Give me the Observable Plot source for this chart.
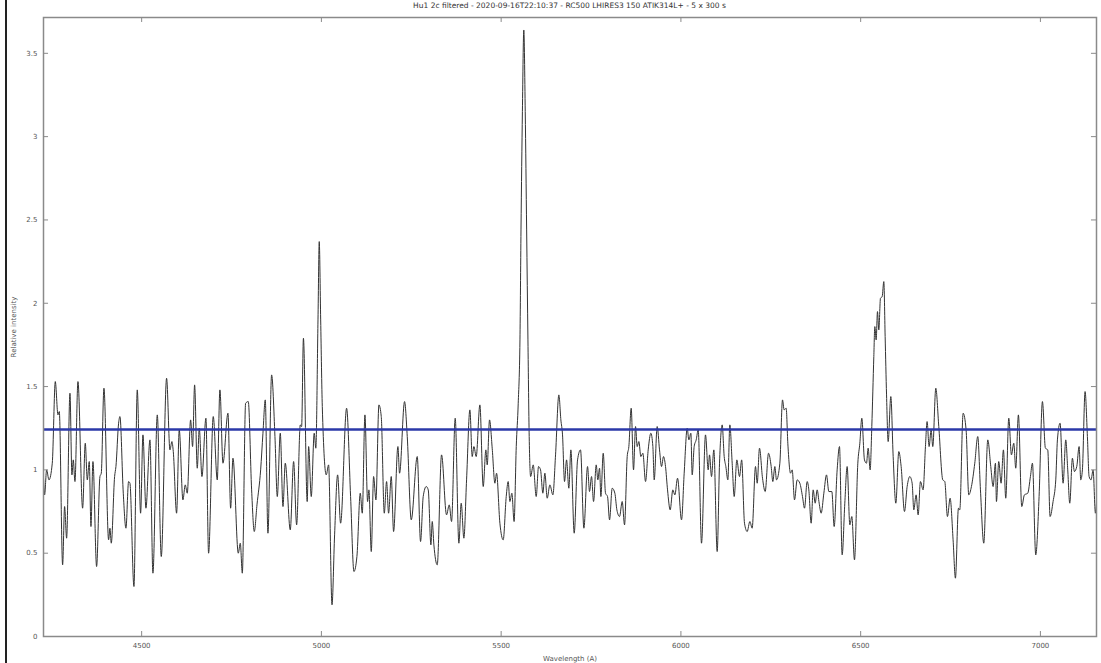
<!DOCTYPE html>
<html>
<head>
<meta charset="utf-8">
<script src="https://cdn.jsdelivr.net/npm/d3@7"></script>
<script src="https://cdn.jsdelivr.net/npm/@observablehq/plot@0.6"></script>
<style>
  body { margin: 0; background: #fff; }
  #wrap { position: relative; width: 1101px; height: 663px; overflow: hidden; }
  #title { position: absolute; left: 43px; width: 1053px; top: 1px; text-align: center;
           font-family: "DejaVu Sans", sans-serif; font-size: 7.5px; line-height: 10px; color: #333; }
  #edge { position: absolute; left: 5px; top: 0; width: 2px; height: 663px; background: #222; }
  #chart { position: absolute; left: 0; top: 0; }
</style>
</head>
<body>
<div id="wrap">
  <div id="chart"></div>
  <div id="title">Hu1 2c filtered - 2020-09-16T22:10:37 - RC500 LHIRES3 150 ATIK314L+ - 5 x 300 s</div>
  <div id="edge"></div>
</div>
<script>
const titleText = "Hu1 2c filtered - 2020-09-16T22:10:37 - RC500 LHIRES3 150 ATIK314L+ - 5 x 300 s";
const xLabel = "Wavelength (A)";
const yLabel = "Relative intensity";
const xTicks = [4500, 5000, 5500, 6000, 6500, 7000];
const yTicks = [0, 0.5, 1, 1.5, 2, 2.5, 3, 3.5];
const xDomain = [4227, 7156];
const yDomain = [0, 3.715];
const threshold = 1.242;

const wavelength = [
4227.3,4230.1,4235.7,4242.2,4251.4,4259.8,4267.2,4270.9,4280.2,4285.7,4291.3,4300.6,4306.1,4309.8,4314.5,4322.8,4335.8,4343.2,4348.8,4354.3,
4359.0,4364.5,4374.7,4384.0,4387.7,4395.1,4408.1,4411.8,4415.5,4424.8,4428.5,4435.9,4439.6,4448.9,4456.3,4463.7,4467.4,4478.6,4487.8,4497.1,
4503.6,4511.9,4523.1,4531.4,4543.5,4554.6,4569.4,4578.7,4584.2,4588.0,4597.2,4604.6,4614.8,4621.3,4626.9,4636.2,4641.7,4647.3,4654.7,4660.3,
4667.7,4678.8,4686.2,4699.2,4710.3,4717.7,
4726.2,4740.1,4747.5,4754.0,4768.8,4774.4,4780.0,4789.2,4796.6,4805.9,4813.3,4820.8,4831.0,4837.4,4843.9,4851.3,4861.5,4870.8,4877.3,4885.6,
4893.1,4899.5,4913.4,4922.7,4931.1,4941.3,4945.0,4950.0,4960.5,4964.5,4971.8,4980.0,4984.5,4990.5,4994.0,4998.0,5002.5,5013.5,5020.0,5029.5,
5036.7,5045.1,5053.4,5070.1,5081.2,5090.5,5098.8,5108.1,5113.7,5121.1,5128.5,5132.2,5138.7,5145.2,5151.7,5160.0,5166.5,5174.9,5181.3,5186.9,
5194.3,5200.8,
5212.8,5217.4,5231.3,5238.8,5249.9,5266.6,5275.8,5283.2,5291.6,5297.2,5304.6,5308.3,5312.9,5322.2,5334.2,5348.1,5355.6,5362.0,5372.2,5382.4,
5388.9,5396.3,5403.8,5413.0,5419.5,5424.2,5430.6,5440.8,5450.1,5457.5,5461.2,5467.7,5475.1,5482.6,5487.2,5496.5,5505.7,5514.1,5519.6,5524.3,
5529.8,5536.0,5542.0,5547.5,5552.3,5555.2,5559.1,5563.0,5567.0,5570.9,5574.5,5578.0,5582.0,5589.2,5597.5,5604.0,5609.6,5616.0,5621.6,5628.1,
5635.5,5643.9,5651.3,5660.5,5666.1,5670.7,5676.3,5681.9,5688.3,
5693.9,5703.2,5712.5,5720.8,5730.1,5740.3,5745.8,5751.4,5757.0,5764.4,5769.0,5773.7,5777.4,5783.9,5790.3,5795.9,5801.5,5808.9,5816.3,5821.9,
5829.3,5836.7,5843.2,5850.6,5855.2,5861.7,5868.2,5873.8,5878.4,5883.0,5888.6,5894.2,5901.6,5909.0,5916.4,5922.0,5925.7,5934.0,5940.5,5946.1,
5951.6,5957.2,5962.8,5970.2,5977.5,5983.2,5990.6,6001.7,6009.1,6017.5,6022.1,6027.7,6031.4,6036.9,6042.5,6048.1,6057.3,6068.4,6075.9,6079.6,
6085.1,6091.6,6100.9,6107.4,6114.8,6120.4,6125.0,6130.6,6136.1,6142.6,6148.2,6155.6,6163.0,6169.0,
6176.9,6184.3,6191.8,6198.2,6207.5,6212.2,6218.6,6227.0,6234.4,6243.7,6251.1,6255.7,6261.3,6265.9,6275.2,6282.6,6287.2,6292.8,6297.4,6304.9,
6309.5,6316.0,6323.4,6330.8,6338.2,6343.8,6351.2,6355.8,6362.3,6367.9,6373.5,6379.0,6384.6,6390.1,6397.6,6405.0,6411.5,6419.8,6426.3,6434.6,
6441.1,6448.5,6455.9,6462.4,6469.9,6475.4,6482.8,6492.1,6497.7,6503.2,6510.6,6516.2,6520.8,6526.4,6531.0,6536.6,6539.4,6543.1,6546.8,6550.5,
6555.1,6559.8,6564.4,6568.1,6572.0,6576.5,6583.9,6590.4,6597.8,6606.1,6612.6,6621.9,6629.3,6636.7,6643.2,6647.8,6654.3,6659.9,
6666.3,6673.7,6680.2,6684.8,6690.4,6696.0,6700.6,6709.0,6717.3,6728.4,6734.0,6741.4,6748.8,6757.1,6763.6,6772.0,6775.7,6785.0,6793.3,6800.7,
6808.1,6817.4,6825.7,6833.2,6842.4,6853.6,6861.9,6868.4,6874.9,6877.7,6884.1,6890.6,6897.1,6903.6,6912.0,6919.4,6925.9,6931.4,6938.8,6948.1,
6955.5,6964.8,6972.2,6977.8,6987.0,6996.3,7005.6,7013.9,7020.4,7026.9,7035.2,7042.7,7047.3,7054.7,7063.1,7070.5,7076.0,7081.6,7089.0,7094.6,
7101.1,7107.6,7112.2,7116.8,7124.2,7130.7,7135.4,7140.9,7146.5,7153.0,7156.0
];

const intensity = [
0.94,0.85,1.00,0.94,1.04,1.53,1.33,1.35,0.43,0.78,0.59,1.46,0.97,1.06,0.93,1.53,0.77,1.16,0.94,1.05,
0.66,1.05,0.42,0.96,0.98,1.49,0.58,0.65,0.56,0.96,1.02,1.28,1.32,0.86,0.65,0.93,0.92,0.30,1.48,0.74,
1.21,0.77,1.18,0.38,1.33,0.48,1.55,1.12,1.17,1.11,0.74,1.24,0.82,0.91,0.86,1.30,1.14,1.51,1.01,1.25,
0.96,1.31,0.50,1.32,0.94,1.48,
1.04,1.34,0.77,1.07,0.50,0.56,0.38,1.40,1.41,0.88,0.63,0.79,1.00,1.22,1.42,0.62,1.57,1.20,0.84,1.22,
0.78,1.04,0.64,1.05,0.67,1.27,1.26,1.79,0.81,1.14,0.84,1.22,1.13,1.90,2.37,1.90,1.38,0.97,1.03,0.19,
0.61,0.97,0.68,1.37,0.84,0.39,0.48,0.86,0.74,1.33,0.81,0.88,0.51,0.96,0.82,1.39,1.32,0.74,0.93,0.74,
0.96,0.63,
1.14,0.98,1.41,1.20,0.70,1.08,0.57,0.84,0.90,0.88,0.55,0.69,0.55,0.43,1.09,0.73,0.79,0.69,1.31,0.56,
0.80,0.59,0.94,1.36,1.08,1.14,1.08,1.39,0.90,1.12,1.03,1.30,1.13,0.92,0.98,0.68,0.58,0.84,0.93,0.81,
0.86,0.69,1.14,1.40,1.78,2.44,3.15,3.64,3.15,2.44,1.78,1.20,0.96,1.03,0.84,1.02,1.00,0.86,0.98,0.83,
0.91,0.85,1.09,1.45,1.30,1.21,0.93,1.06,0.89,
1.12,0.62,1.06,1.12,0.65,1.02,0.87,0.96,0.81,1.03,0.94,1.01,0.84,1.10,0.86,0.84,0.70,0.89,0.86,0.76,
0.72,0.81,0.67,1.08,1.14,1.37,1.00,1.26,1.14,1.17,1.08,1.10,0.93,1.12,1.22,1.14,0.94,1.26,1.12,1.02,
1.08,1.02,0.88,0.76,0.88,0.85,0.95,0.70,0.98,1.25,1.18,1.22,0.97,1.14,1.18,1.24,0.56,1.21,1.00,1.09,
0.96,1.12,0.51,1.04,1.27,1.08,1.02,0.94,1.27,1.04,0.84,1.06,0.96,1.06,
0.68,0.63,0.69,0.65,1.02,0.92,1.13,0.95,0.87,1.10,1.02,0.93,1.02,0.94,1.04,1.42,1.36,1.37,1.16,0.98,
1.00,0.82,0.94,0.92,0.84,0.77,0.93,0.88,0.68,0.88,0.80,0.88,0.80,0.74,0.86,0.97,0.87,0.87,0.66,1.00,
1.14,0.49,0.80,1.02,0.67,0.72,0.46,1.04,1.16,1.31,1.06,1.04,1.13,1.00,1.26,1.68,1.86,1.78,1.95,1.84,
2.03,2.04,2.13,1.80,1.45,1.17,1.44,1.08,0.80,1.11,1.02,0.75,0.90,0.96,0.92,0.76,0.85,0.73,
0.93,0.88,1.14,1.29,1.14,1.24,1.14,1.49,1.26,0.94,0.93,0.72,0.83,0.58,0.35,0.77,0.76,1.34,1.24,0.85,
0.90,1.04,1.20,0.88,0.56,1.18,1.02,0.90,1.04,0.81,1.05,0.92,1.12,0.83,1.31,1.09,1.16,1.01,1.33,0.78,
0.85,0.86,0.96,1.04,0.49,0.84,1.41,1.13,1.12,0.72,0.81,0.94,1.18,1.28,0.92,1.18,1.00,0.80,1.07,0.99,
1.02,1.14,0.94,1.00,1.47,1.20,0.96,0.94,1.00,0.74,0.80
];

const data = wavelength.map((w, i) => ({w, v: intensity[i]}));
const yTickLen = 0.03;
const xTickLen = 14;
const fmt = d => String(d);

const chart = Plot.plot({
  width: 1101,
  height: 663,
  marginLeft: 43,
  marginRight: 5,
  marginTop: 17,
  marginBottom: 27,
  x: {domain: xDomain},
  y: {domain: yDomain},
  style: {fontFamily: "DejaVu Sans, sans-serif", fontSize: "7px", color: "#555", background: "transparent"},
  marks: [
    Plot.line(data, {x: "w", y: "v", stroke: "#333", strokeWidth: 1, curve: "monotone-x"}),
    Plot.ruleY([threshold], {stroke: "#2b38a8", strokeWidth: 2.5}),
    Plot.frame({stroke: "#8a8a8a", strokeWidth: 1.5}),
    Plot.ruleX(xTicks, {y1: yDomain[0], y2: yDomain[0] + yTickLen, stroke: "#8a8a8a"}),
    Plot.ruleX(xTicks, {y1: yDomain[1], y2: yDomain[1] - yTickLen, stroke: "#8a8a8a"}),
    Plot.ruleY(yTicks, {x1: xDomain[0], x2: xDomain[0] + xTickLen, stroke: "#8a8a8a"}),
    Plot.ruleY(yTicks, {x1: xDomain[1], x2: xDomain[1] - xTickLen, stroke: "#8a8a8a"}),
    Plot.axisX(xTicks, {tickSize: 0, tickPadding: 7, tickFormat: fmt, label: xLabel, labelAnchor: "center", labelArrow: "none", labelOffset: 24}),
    Plot.axisY(yTicks, {tickSize: 0, tickPadding: 6, tickFormat: fmt, label: yLabel, labelAnchor: "center", labelArrow: "none", labelOffset: 32})
  ]
});
document.getElementById("chart").appendChild(chart);
document.getElementById("title").textContent = titleText;
</script>
</body>
</html>
